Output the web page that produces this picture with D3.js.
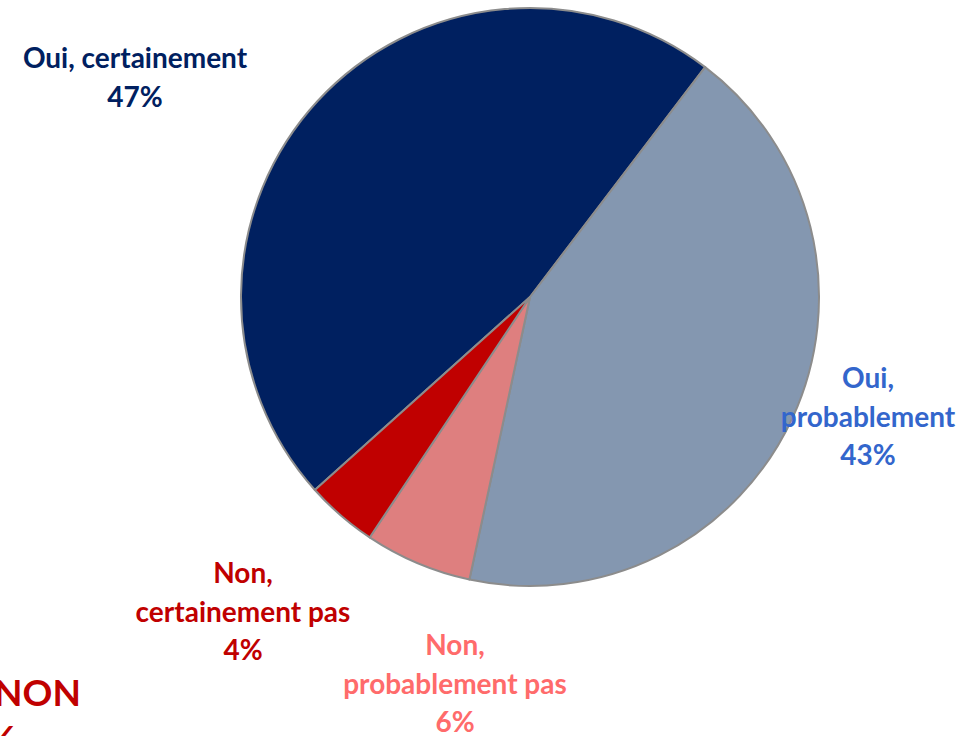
<!DOCTYPE html>
<html>
<head>
<meta charset="utf-8">
<script src="https://cdn.jsdelivr.net/npm/d3@7"></script>
<style>
  body { margin: 0; background: #fff; }
  text { font-family: Lato, "Open Sans", sans-serif; font-weight: bold; }
</style>
</head>
<body>
<script>
var categories = ["Oui, certainement", "Oui, probablement", "Non, probablement pas", "Non, certainement pas"]
var values = [47, 43, 6, 4]
var labelLines = [["Oui, certainement", "47%"], ["Oui,", "probablement", "43%"], ["Non,", "probablement pas", "6%"], ["Non,", "certainement pas", "4%"]]
var sliceColors = ["#002060", "#8497B0", "#DE7F7F", "#C00000"]
var textColors = ["#002060", "#3366CC", "#FF6B6B", "#C00000"]

const width = 967
const height = 736
const cx = 530
const cy = 297
const radius = 289

// where each label block sits (centre x, first baseline)
var labelPos = [[135, 68], [868, 388], [455, 655], [243, 583]]

var svg = d3.select("body").append("svg").attr("width", width).attr("height", height)

var pie = d3.pie().sort(null).value((d) => d)
    .startAngle(-131.9 * Math.PI / 180)
    .endAngle((360 - 131.9) * Math.PI / 180)

var arc = d3.arc().innerRadius(0).outerRadius(radius)

var g = svg.append("g").attr("transform", "translate(" + cx + "," + cy + ")")

g.selectAll("path").data(pie(values)).enter()
    .append("path")
    .attr("d", arc)
    .attr("fill", (d, i) => sliceColors[i])
    .attr("stroke", "#8c8c8c")
    .attr("stroke-width", 2)
    .attr("stroke-linejoin", "round")

var labels = svg.selectAll("text.lab").data(labelLines).enter()
    .append("text")
    .attr("class", "lab")
    .attr("text-anchor", "middle")
    .attr("font-size", 28)
    .attr("fill", (d, i) => textColors[i])

labels.selectAll("tspan").data((d, i) => d.map((t) => [t, i])).enter()
    .append("tspan")
    .attr("x", (d) => labelPos[d[1]][0])
    .attr("y", (d, j) => labelPos[d[1]][1] + j * 38.5)
    .text((d) => d[0])

// total "NON", partly outside the frame
svg.append("text").attr("x", -6).attr("y", 706).attr("font-size", 37).attr("fill", "#C00000").text("NON")
svg.append("text").attr("x", 16).attr("y", 752).attr("text-anchor", "end").attr("font-size", 37).attr("fill", "#C00000").text("10%")
</script>
</body>
</html>
